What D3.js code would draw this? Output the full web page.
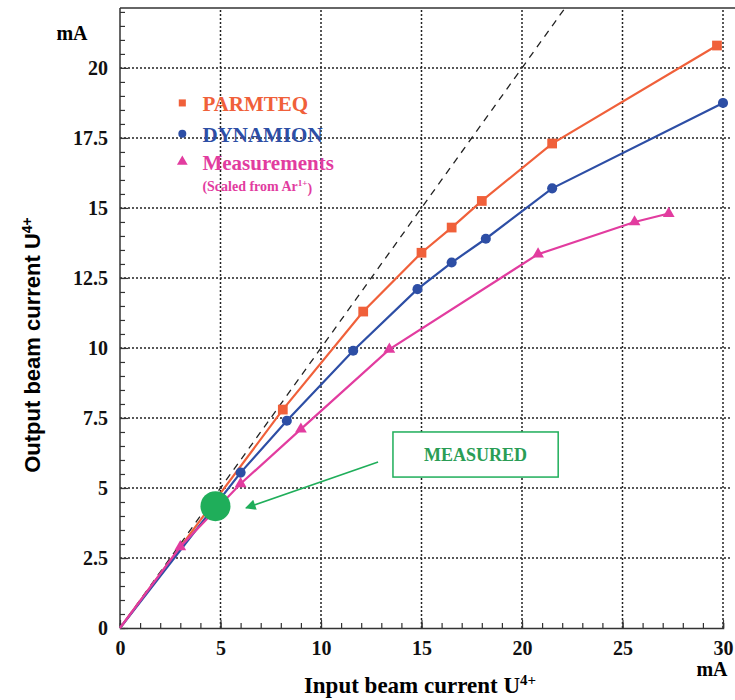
<!DOCTYPE html>
<html lang="en">
<head>
  <meta charset="UTF-8">
  <title>Output vs input beam current U4+</title>
  <style>
    *{box-sizing:border-box;margin:0;padding:0}
    body{background:#fff;width:735px;height:700px;overflow:hidden}
    svg{display:block}
    .serif{font-family:'Liberation Serif','DejaVu Serif',serif;font-weight:bold}
    .sans{font-family:'Liberation Sans',Arial,sans-serif;font-weight:bold}
    .grid line{stroke:#222;stroke-width:1.5;stroke-dasharray:2,2}
    .axis path{stroke:#333;stroke-width:1.5}
    .axis line{stroke:#333;stroke-width:1.2}
    .axis text{font-family:'Liberation Serif','DejaVu Serif',serif;font-weight:bold;font-size:20px;fill:#111}
  </style>
  <script src="https://cdn.jsdelivr.net/npm/d3@7"></script>
</head>
<body>
  <div id="chart"></div>
  <script>
    /* ---------- DATA ---------- */
    const xTicks=[0,5,10,15,20,25,30];
    const yTicks=[0,2.5,5,7.5,10,12.5,15,17.5,20];
    const yTickLabels=['0','2.5','5','7.5','10','12.5','15','17.5','20'];

    const parmteqIn =[0,8.1,12.1,15.0,16.5,18.0,21.5,29.7];
    const parmteqOut=[0,7.8,11.3,13.4,14.3,15.25,17.3,20.8];
    const dynamionIn =[0,6.0,8.3,11.6,14.8,16.5,18.2,21.5,30.0];
    const dynamionOut=[0,5.55,7.4,9.9,12.1,13.05,13.9,15.7,18.75];
    const measIn =[0,3.0,6.0,9.0,13.4,20.8,25.6,27.3];
    const measOut=[0,2.9,5.15,7.1,9.95,13.35,14.5,14.8];

    const measuredPoint=[4.75,4.35];
    const identity=[[0,0],[22.14,22.14]];

    const seriesNames=['PARMTEQ','DYNAMION','Measurements'];
    const seriesColors=['#f0603a','#2d4ea5','#e23c9f'];

    /* ---------- LAYOUT ---------- */
    const W=735,H=700;
    const x=d3.scaleLinear().domain([0,30]).range([120,723]);
    const y=d3.scaleLinear().domain([0,22.14]).range([628,8]);

    const svg=d3.select('#chart').append('svg').attr('width',W).attr('height',H);

    /* ---- grid ---- */
    const grid=svg.append('g').attr('class','grid');
    grid.selectAll('.gx').data(xTicks.slice(1)).enter().append('line')
        .attr('x1',d=>x(d)).attr('x2',d=>x(d)).attr('y1',y(0)).attr('y2',y.range()[1]);
    grid.selectAll('.gy').data(yTicks.slice(1)).enter().append('line')
        .attr('x1',x(0)).attr('x2',730).attr('y1',d=>y(d)).attr('y2',d=>y(d));

    /* ---- frame top ---- */
    svg.append('line').attr('x1',x(0)).attr('x2',W).attr('y1',y.range()[1]).attr('y2',y.range()[1])
       .attr('stroke','#333').attr('stroke-width',1.5);

    /* ---- axes: minor ticks inward ---- */
    svg.append('g').attr('class','axis').attr('transform',`translate(0,${y(0)})`)
       .call(d3.axisBottom(x).tickValues(d3.range(0,31,1)).tickSize(-5).tickFormat(''));
    svg.append('g').attr('class','axis').attr('transform',`translate(${x(0)},0)`)
       .call(d3.axisLeft(y).tickValues(d3.range(0,22.1,0.5)).tickSize(-5).tickFormat(''))
       .select('.domain').attr('d',`M0,${y(0)}V${y.range()[1]}`);

    /* ---- major tick labels ---- */
    svg.append('g').attr('class','axis').attr('transform',`translate(0,${y(0)})`)
       .call(d3.axisBottom(x).tickValues(xTicks).tickSize(-8).tickPadding(13).tickFormat(d3.format('d')))
       .call(g=>g.select('.domain').remove());
    svg.append('g').attr('class','axis').attr('transform',`translate(${x(0)},0)`)
       .call(d3.axisLeft(y).tickValues(yTicks).tickSize(-8).tickPadding(12).tickFormat((d,i)=>yTickLabels[i]))
       .call(g=>g.select('.domain').remove());

    /* ---- identity (dashed) ---- */
    const line=d3.line().x(d=>x(d[0])).y(d=>y(d[1]));
    svg.append('path').datum(identity).attr('d',line)
       .attr('fill','none').attr('stroke','#222').attr('stroke-width',1.3).attr('stroke-dasharray','7,6');

    /* ---- series ---- */
    const series=[
      {pts:d3.zip(parmteqIn,parmteqOut),shape:d3.symbolSquare,size:95},
      {pts:d3.zip(dynamionIn,dynamionOut),shape:d3.symbolCircle,size:80},
      {pts:d3.zip(measIn,measOut),shape:d3.symbolTriangle,size:60}
    ];
    series.forEach((s,i)=>{
      svg.append('path').datum(s.pts).attr('d',line)
         .attr('fill','none').attr('stroke',seriesColors[i]).attr('stroke-width',2.2);
      svg.append('g').selectAll('path').data(s.pts.slice(1)).enter().append('path')
         .attr('d',d3.symbol().type(s.shape).size(s.size))
         .attr('transform',d=>`translate(${x(d[0])},${y(d[1])})`)
         .attr('fill',seriesColors[i]);
    });

    /* ---- measured point + annotation ---- */
    const green='#1fae5a';
    svg.append('circle').attr('cx',x(measuredPoint[0])).attr('cy',y(measuredPoint[1])).attr('r',15).attr('fill',green);
    svg.append('defs').append('marker').attr('id','arr').attr('viewBox','0 0 10 10')
       .attr('refX',9).attr('refY',5).attr('markerWidth',9).attr('markerHeight',7).attr('orient','auto')
       .append('path').attr('d','M0,0L10,5L0,10z').attr('fill',green);
    svg.append('line').attr('x1',x(12.84)).attr('y1',y(5.93)).attr('x2',x(6.27)).attr('y2',y(4.29))
       .attr('stroke',green).attr('stroke-width',1.5).attr('marker-end','url(#arr)');
    svg.append('rect').attr('x',x(13.58)).attr('y',y(7.0)).attr('width',x(21.8)-x(13.58)).attr('height',y(5.39)-y(7.0))
       .attr('fill','#fff').attr('stroke',green).attr('stroke-width',1.5);
    svg.append('text').attr('class','serif').attr('x',x(17.69)).attr('y',y(6.2)).attr('dy','0.35em')
       .attr('text-anchor','middle').attr('font-size',18).attr('fill','#2a9d55').text('MEASURED');

    /* ---- legend ---- */
    const legY=[18.75,17.65,16.65];
    const legShapes=[d3.symbolSquare,d3.symbolCircle,d3.symbolTriangle];
    seriesNames.forEach((n,i)=>{
      svg.append('path').attr('d',d3.symbol().type(legShapes[i]).size(50))
         .attr('transform',`translate(${x(3.1)},${y(legY[i])})`).attr('fill',seriesColors[i]);
      svg.append('text').attr('class','serif').attr('x',x(4.1)).attr('y',y(legY[i])).attr('dy','0.38em')
         .attr('font-size',21).attr('fill',seriesColors[i]).text(n);
    });
    const sub=svg.append('text').attr('class','serif').attr('x',x(4.1)).attr('y',y(15.8)).attr('dy','0.38em')
       .attr('font-size',14).attr('fill',seriesColors[2]);
    sub.append('tspan').text('(Scaled from Ar');
    sub.append('tspan').attr('dy','-0.5em').attr('font-size',9).text('1+');
    sub.append('tspan').attr('dy','0.5em').text(')');

    /* ---- axis titles ---- */
    svg.append('text').attr('class','serif').attr('x',72).attr('y',40).attr('text-anchor','middle').attr('font-size',20).text('mA');
    svg.append('text').attr('class','serif').attr('x',712).attr('y',676).attr('text-anchor','middle').attr('font-size',20).text('mA');
    const xl=svg.append('text').attr('class','serif').attr('x',420).attr('y',693).attr('text-anchor','middle').attr('font-size',23);
    xl.append('tspan').text('Input beam current U');
    xl.append('tspan').attr('dy','-0.55em').attr('font-size',15).text('4+');
    const yl=svg.append('text').attr('class','sans').attr('transform','translate(40,345) rotate(-90)').attr('text-anchor','middle').attr('font-size',22);
    yl.append('tspan').text('Output beam current U');
    yl.append('tspan').attr('dy','-0.55em').attr('font-size',14).text('4+');
  </script>
</body>
</html>
